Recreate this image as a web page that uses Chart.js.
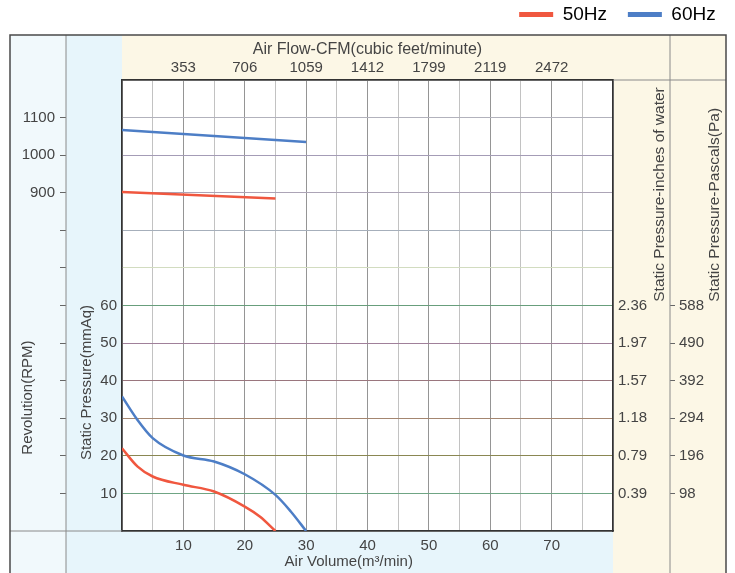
<!DOCTYPE html>
<html>
<head>
<meta charset="utf-8">
<script src="https://cdn.jsdelivr.net/npm/chart.js@4.4.1/dist/chart.umd.min.js"></script>
<style>
  body { margin: 0; background: #fff; }
</style>
</head>
<body>
<canvas id="fanChart" width="735" height="573"></canvas>
<script>
// curves (air volume m3/min -> static pressure mmAq)
const airVolume50 = [0, 2.5, 5, 10, 15, 20, 22.5, 25];
const pressure50 = [22, 17.2, 14.5, 12.3, 10.5, 6.5, 3.8, 0];
const airVolume60 = [0, 2.5, 5, 10, 15, 20, 25, 27.5, 30];
const pressure60 = [35.8, 29.6, 24.7, 20.1, 18.5, 15.1, 9.6, 5.2, 0];
// revolution lines
const rpmVolume50 = [0, 25];
const rpm50 = [902, 885];
const rpmVolume60 = [0, 30];
const rpm60 = [1067, 1035];

// tick labels
const airVolumeTicks = [10, 20, 30, 40, 50, 60, 70];
const cfmLabels = ['353', '706', '1059', '1412', '1799', '2119', '2472'];
const pressureTicks = [10, 20, 30, 40, 50, 60];
const inchLabels = ['0.39', '0.79', '1.18', '1.57', '1.97', '2.36'];
const pascalLabels = ['98', '196', '294', '392', '490', '588'];
const rpmTicks = [900, 1000, 1100];

const rpmTitle = 'Revolution(RPM)';
const pressureTitle = 'Static Pressure(mmAq)';
const inchTitle = 'Static Pressure-inches of water';
const pascalTitle = 'Static Pressure-Pascals(Pa)';

const red = '#f0573f';
const blue = '#4d7ec6';
const textColor = '#444';

Chart.defaults.font.family = '"Liberation Sans", Arial, sans-serif';
Chart.defaults.font.size = 15;
Chart.defaults.color = textColor;

function points(xs, ys) {
  return xs.map((x, i) => ({ x: x, y: ys[i] }));
}

// the printed sheet has slightly tinted horizontal rules
const rowColors = {
  10: '#6fa584', 20: '#8a8752', 30: '#a48670', 40: '#9a767e', 50: '#a0809a', 60: '#689e7c',
  70: '#d2dcc0', 80: '#a6afbb', 90: '#aca4b6', 100: '#a49cb6', 110: '#b2b2bc'
};

function rowColor(ctx) {
  return rowColors[Math.round(ctx.tick.value)] || '#9a9a9a';
}

function colColor(ctx) {
  return Math.round(ctx.tick.value) % 10 === 0 ? '#959595' : '#c2c2c2';
}

const framePlugin = {
  id: 'frame',
  beforeDraw(chart) {
    const { ctx, chartArea: a, scales: s } = chart;
    const left = s.yRpm.left, right = s.yPa.right, top = a.top - 45, bottom = chart.height;
    ctx.save();
    ctx.fillStyle = '#f1f9fc';
    ctx.fillRect(left, top, s.yRpm.right - left, bottom - top);
    ctx.fillStyle = '#e7f5fb';
    ctx.fillRect(s.yRpm.right, top, a.left - s.yRpm.right, bottom - top);
    ctx.fillRect(s.yRpm.right, a.bottom, a.right - s.yRpm.right, bottom - a.bottom);
    ctx.fillStyle = '#fcf7e6';
    ctx.fillRect(a.left, top, right - a.left, a.top - top);
    ctx.fillRect(a.right, a.top, right - a.right, bottom - a.top);
    ctx.fillStyle = '#fff';
    ctx.fillRect(a.left, a.top, a.right - a.left, a.bottom - a.top);
    ctx.restore();
  },
  afterDraw(chart) {
    const { ctx, chartArea: a, scales: s } = chart;
    const left = s.yRpm.left, right = s.yPa.right, top = a.top - 45, bottom = chart.height;
    ctx.save();
    // thin dividers
    ctx.strokeStyle = '#8a8a8a';
    ctx.lineWidth = 1;
    ctx.beginPath();
    ctx.moveTo(s.yRpm.right, top); ctx.lineTo(s.yRpm.right, bottom);
    ctx.moveTo(s.yPa.left, top); ctx.lineTo(s.yPa.left, bottom);
    ctx.moveTo(left, a.bottom); ctx.lineTo(a.left, a.bottom);
    ctx.moveTo(a.right, a.top); ctx.lineTo(right, a.top);
    ctx.stroke();
    // outer frame
    ctx.strokeStyle = '#4a4a4a';
    ctx.lineWidth = 1.5;
    ctx.beginPath();
    ctx.moveTo(left, bottom); ctx.lineTo(left, top); ctx.lineTo(right, top); ctx.lineTo(right, bottom);
    ctx.stroke();

    // vertical titles, reading bottom to top
    function upText(text, x, y, align, size) {
      ctx.save();
      ctx.translate(x, y);
      ctx.rotate(-Math.PI / 2);
      ctx.font = size + 'px "Liberation Sans", Arial, sans-serif';
      ctx.fillStyle = textColor;
      ctx.textAlign = align;
      ctx.textBaseline = 'middle';
      ctx.fillText(text, 0, 0);
      ctx.restore();
    }
    const y = s.y;
    upText(rpmTitle, s.yRpm.left + 18, y.getPixelForValue(35.5), 'center', 15);
    upText(pressureTitle, y.left + 21, y.getPixelForValue(39.5), 'center', 15);
    upText(inchTitle, s.yIn.right - 10, y.getPixelForValue(61), 'left', 15.5);
    upText(pascalTitle, s.yPa.right - 11, y.getPixelForValue(61), 'left', 15.5);
    ctx.restore();
  }
};

const border = { display: true, color: '#333', width: 1.5 };

new Chart(document.getElementById('fanChart'), {
  type: 'line',
  data: {
    datasets: [
      { label: '50Hz', data: points(airVolume50, pressure50), borderColor: red, backgroundColor: red, borderWidth: 2.5, pointRadius: 0, cubicInterpolationMode: 'monotone', yAxisID: 'y' },
      { label: '60Hz', data: points(airVolume60, pressure60), borderColor: blue, backgroundColor: blue, borderWidth: 2.5, pointRadius: 0, cubicInterpolationMode: 'monotone', yAxisID: 'y' },
      { label: 'rpm50', data: points(rpmVolume50, rpm50), borderColor: red, borderWidth: 2.5, pointRadius: 0, yAxisID: 'yRpm' },
      { label: 'rpm60', data: points(rpmVolume60, rpm60), borderColor: blue, borderWidth: 2.5, pointRadius: 0, yAxisID: 'yRpm' }
    ]
  },
  options: {
    responsive: false,
    animation: false,
    layout: { padding: { left: 10, right: 9, top: 0, bottom: 0 } },
    plugins: {
      tooltip: { enabled: false },
      legend: {
        position: 'top',
        align: 'end',
        labels: {
          boxWidth: 34,
          boxHeight: 5,
          padding: 5,
          color: '#777',
          font: { size: 19 },
          generateLabels: () => [
            { text: '50Hz' + '\u00a0'.repeat(3), fillStyle: red, strokeStyle: red, lineWidth: 0, datasetIndex: 0 },
            { text: '60Hz\u00a0', fillStyle: blue, strokeStyle: blue, lineWidth: 0, datasetIndex: 1 }
          ]
        }
      }
    },
    scales: {
      x: {
        type: 'linear', position: 'bottom', min: 0, max: 80,
        ticks: { stepSize: 5, autoSkip: false, maxRotation: 0, padding: 6,
          callback: v => airVolumeTicks.includes(v) ? String(v) : '' },
        grid: { color: colColor, drawTicks: false },
        border: border,
        title: { display: true, text: 'Air Volume(m³/min)' + '\u00a0'.repeat(9), padding: { top: 0, bottom: 2 } },
        afterFit: s => { s.height = 42; }
      },
      xTop: {
        type: 'linear', position: 'top', min: 0, max: 80,
        afterBuildTicks: s => { s.ticks = airVolumeTicks.map(v => ({ value: v })); },
        ticks: { autoSkip: false, maxRotation: 0, padding: 3,
          callback: v => cfmLabels[airVolumeTicks.indexOf(v)] },
        grid: { display: false, drawTicks: false },
        border: border,
        title: { display: true, text: 'Air Flow-CFM(cubic feet/minute)', font: { size: 16 }, padding: { top: 6, bottom: 0 } },
        afterFit: s => { s.height = 46; }
      },
      y: {
        type: 'linear', position: 'left', min: 0, max: 120, weight: 0,
        ticks: { stepSize: 10, autoSkip: false, padding: 5,
          callback: v => pressureTicks.includes(v) ? String(v) : '' },
        grid: { color: rowColor, drawTicks: false },
        border: border,
        afterFit: s => { s.width = 56; }
      },
      yRpm: {
        type: 'linear', position: 'left', min: 0, max: 1200, weight: 1,
        afterBuildTicks: s => { s.ticks = s.ticks.filter(t => t.value > 0 && t.value < 1200); },
        ticks: { stepSize: 100, autoSkip: false, padding: 5,
          callback: v => rpmTicks.includes(v) ? String(v) : '' },
        grid: { drawOnChartArea: false, drawTicks: true, tickLength: 6, color: '#666' },
        border: { display: false },
        afterFit: s => { s.width = 56; }
      },
      yIn: {
        type: 'linear', position: 'right', min: 0, max: 120, weight: 0,
        afterBuildTicks: s => { s.ticks = pressureTicks.map(v => ({ value: v })); },
        ticks: { autoSkip: false, padding: 5,
          callback: v => inchLabels[pressureTicks.indexOf(v)] },
        grid: { display: false, drawTicks: false },
        border: border,
        afterFit: s => { s.width = 57; }
      },
      yPa: {
        type: 'linear', position: 'right', min: 0, max: 120, weight: 1,
        afterBuildTicks: s => { s.ticks = pressureTicks.map(v => ({ value: v })); },
        ticks: { autoSkip: false, padding: 4,
          callback: v => pascalLabels[pressureTicks.indexOf(v)] },
        grid: { drawOnChartArea: false, drawTicks: true, tickLength: 5, color: '#666' },
        border: { display: false },
        afterFit: s => { s.width = 56; }
      }
    }
  },
  plugins: [framePlugin]
});
</script>
</body>
</html>
